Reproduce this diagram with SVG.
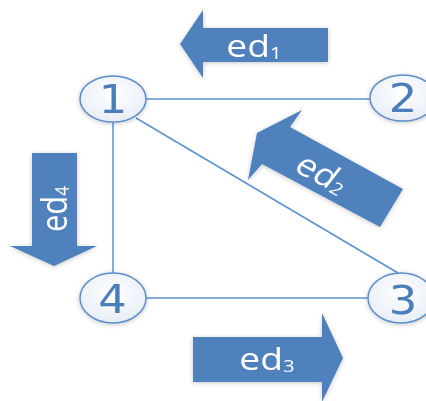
<svg xmlns="http://www.w3.org/2000/svg" width="426" height="401" viewBox="0 0 426 401">
  <defs>
    <radialGradient id="nodeFill" cx="50%" cy="40%" r="65%">
      <stop offset="0" stop-color="#ffffff"/>
      <stop offset="1" stop-color="#e6ecf5"/>
    </radialGradient>
    <filter id="soft" x="-20%" y="-20%" width="140%" height="140%">
      <feGaussianBlur in="SourceAlpha" stdDeviation="2.5"/>
      <feOffset dx="0" dy="1" result="b"/>
      <feComponentTransfer><feFuncA type="linear" slope="0.22"/></feComponentTransfer>
      <feMerge><feMergeNode/><feMergeNode in="SourceGraphic"/></feMerge>
    </filter>
  </defs>
  <style>
    .edge { stroke: #5b93d0; stroke-width: 1.5; fill: none; }
    .node ellipse { fill: url(#nodeFill); stroke: #5b8fc9; stroke-width: 1.5; }
    .num { font-family: "DejaVu Sans", sans-serif; font-size: 39px; fill: #4a7ebb; text-anchor: middle; }
    .arrow polygon { fill: #4f81bd; }
    .lbl { font-family: "Open Sans", sans-serif; font-size: 31px; fill: #ffffff; text-anchor: middle; }
    .sub { font-size: 17px; }
  </style>

  <!-- connectors -->
  <g id="edges">
    <line class="edge" x1="146" y1="99" x2="370" y2="99"/>
    <line class="edge" x1="113" y1="122" x2="113" y2="274"/>
    <line class="edge" x1="136" y1="118" x2="398" y2="273"/>
    <line class="edge" x1="146" y1="298" x2="368" y2="298"/>
  </g>

  <!-- nodes -->
  <g id="node1" class="node" filter="url(#soft)">
    <ellipse cx="113" cy="99" rx="33" ry="23"/>
    <text class="num" transform="translate(113,113) scale(1.15,1)">1</text>
  </g>
  <g id="node2" class="node" filter="url(#soft)">
    <ellipse cx="403" cy="98" rx="33" ry="23"/>
    <text class="num" transform="translate(403,112) scale(1.15,1)">2</text>
  </g>
  <g id="node3" class="node" filter="url(#soft)">
    <ellipse cx="401" cy="298" rx="33" ry="25"/>
    <text class="num" transform="translate(403,314) scale(1.15,1)">3</text>
  </g>
  <g id="node4" class="node" filter="url(#soft)">
    <ellipse cx="113" cy="298" rx="33" ry="25"/>
    <text class="num" transform="translate(112.5,313) scale(1.15,1)">4</text>
  </g>

  <!-- direction arrows -->
  <g id="ed1" class="arrow" filter="url(#soft)">
    <polygon points="180,44 203,10 203,28 328,28 328,62 203,62 203,78"/>
    <text class="lbl" transform="translate(254,57) scale(1.2,1)">ed<tspan class="sub" dy="2">1</tspan></text>
  </g>
  <g id="ed2" class="arrow" filter="url(#soft)">
    <polygon points="257,133 302,110 290,127 403,189 380,227 262,164 248,180"/>
    <text class="lbl" transform="translate(322,174) scale(1.2,1) rotate(32.8)" y="10">ed<tspan class="sub" dy="2">2</tspan></text>
  </g>
  <g id="ed3" class="arrow" filter="url(#soft)">
    <polygon points="193,337 322,337 322,313 343,358 322,402 322,382 193,382"/>
    <text class="lbl" transform="translate(267,370) scale(1.2,1)">ed<tspan class="sub" dy="2">3</tspan></text>
  </g>
  <g id="ed4" class="arrow" filter="url(#soft)">
    <polygon points="32,153 77,153 77,246 97,246 54,266 10,246 32,246"/>
    <text class="lbl" transform="translate(67,209) scale(1.2,1) rotate(-90)">ed<tspan class="sub" dy="2">4</tspan></text>
  </g>
</svg>
